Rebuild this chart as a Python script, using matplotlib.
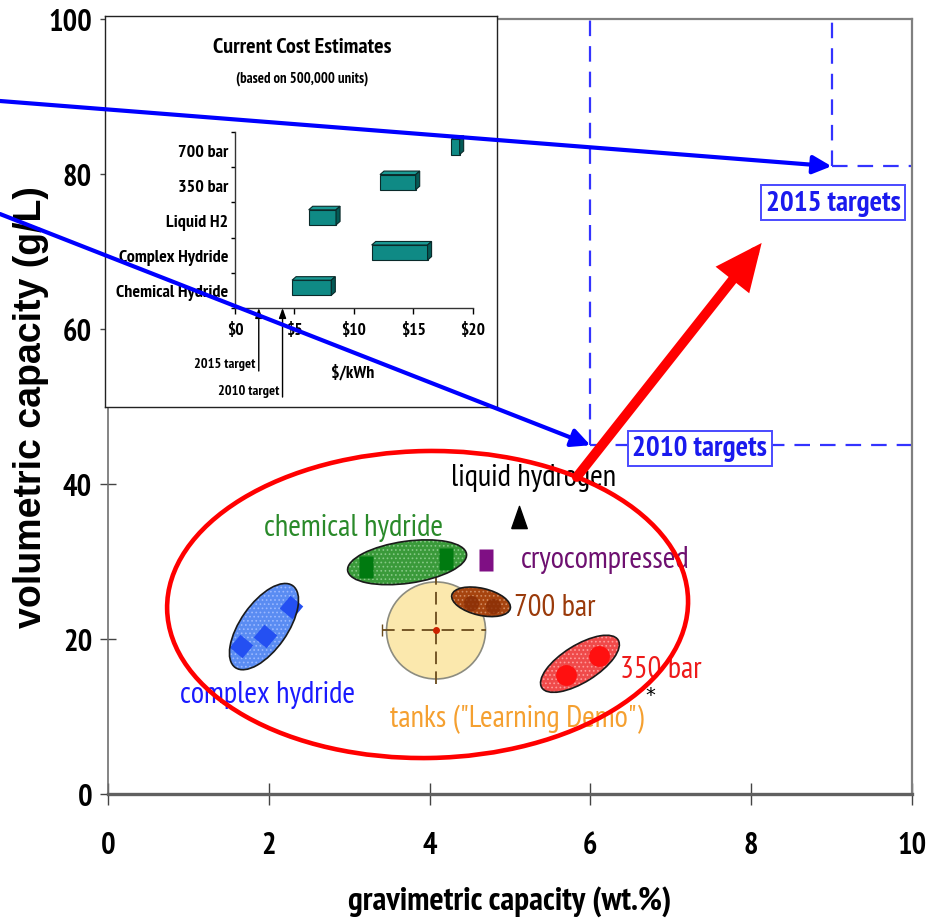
import numpy as np
import matplotlib
matplotlib.use("Agg")
import matplotlib.pyplot as plt
from matplotlib.patches import Ellipse, Polygon, ConnectionPatch
from matplotlib import transforms

# ---------------- data ----------------
x_ticks = [0, 2, 4, 6, 8, 10]
y_ticks = [0, 20, 40, 60, 80, 100]

target_labels = ["2010 targets", "2015 targets"]
target_grav = [6, 9]          # wt.%
target_vol = [45, 81]         # g/L
target_label_x = [7.36, 9.02]
target_label_y = [44.6, 76.3]

# technology clusters (centres, wt.% / g/L)
cluster_names = ["complex hydride", "chemical hydride", "700 bar", "350 bar"]
cluster_x = [1.94, 3.72, 4.64, 5.87]
cluster_y = [21.6, 29.9, 24.8, 16.8]

complex_pts_x = [1.66, 1.95, 2.28]
complex_pts_y = [19.1, 20.4, 24.1]
chemical_pts_x = [3.21, 4.20]
chemical_pts_y = [29.3, 30.3]
bar700_pts_x = [4.52, 4.79]
bar700_pts_y = [24.7, 24.3]
bar350_pts_x = [5.70, 6.11]
bar350_pts_y = [15.3, 17.8]

tanks_x = [4.08]
tanks_y = [21.1]
tanks_xrange = [3.41, 4.70]
tanks_yrange = [14.2, 28.0]

liquid_x = [5.11]
liquid_y = [35.7]
cryo_x = [4.70]
cryo_y = [30.2]

progress_start = (5.83, 40.9)
progress_end = (8.13, 71.1)
overall_center = (3.975, 24.45)

# inset: cost estimates
cost_categories = ["Chemical Hydride", "Complex Hydride", "Liquid H2", "350 bar", "700 bar"]
cost_low = [4.8, 11.5, 6.2, 12.2, 18.2]
cost_high = [8.1, 16.2, 8.5, 15.2, 18.9]
cost_xticks = [0, 5, 10, 15, 20]
cost_xticklabels = ["$0", "$5", "$10", "$15", "$20"]
cost_target_years = ["2015 target", "2010 target"]
cost_target_values = [2, 4]

# ---------------- figure ----------------
NARROW = ["PT Sans Narrow", "Fira Sans Condensed", "Archivo Narrow", "Liberation Sans", "DejaVu Sans"]
plt.rcParams["font.family"] = NARROW
plt.rcParams["hatch.linewidth"] = 0.7

W, H = 929, 920
fig = plt.figure(figsize=(W / 100, H / 100), dpi=100)
fig.patch.set_facecolor("white")

ax_l, ax_r, ax_t, ax_b = 108, 912, 20, 795
ax = fig.add_axes([ax_l / W, 1 - ax_b / H, (ax_r - ax_l) / W, (ax_b - ax_t) / H], zorder=0)
ax.set_xlim(0, 10)
ax.set_ylim(0, 100)
ax.set_xticks(x_ticks)
ax.set_yticks(y_ticks)
ax.set_xticklabels([str(v) for v in x_ticks], fontsize=22, fontweight="bold")
ax.set_yticklabels([str(v) for v in y_ticks], fontsize=22, fontweight="bold")
ax.tick_params(axis="x", direction="inout", length=16, width=1, color="#444444", pad=19)
ax.tick_params(axis="y", direction="inout", length=11, width=1, color="#444444", pad=6)
for s in ["top", "right"]:
    ax.spines[s].set_color("#808080")
    ax.spines[s].set_linewidth(1.6)
ax.spines["left"].set_color("#707070")
ax.spines["left"].set_linewidth(1.2)
ax.spines["bottom"].set_color("#606060")
ax.spines["bottom"].set_linewidth(2.4)

ax.set_xlabel("gravimetric capacity (wt.%)", fontsize=24, fontweight="bold")
ax.xaxis.set_label_coords(0.5, -0.117)
ax.set_ylabel("volumetric capacity (g/L)", fontsize=27, fontweight="bold",
              family=["Liberation Sans", "DejaVu Sans"])
ax.yaxis.set_label_coords(-0.074, 0.5)

PXX = (ax_r - ax_l) / 10.0
PXY = (ax_b - ax_t) / 100.0
px_tr = transforms.Affine2D().scale(1 / PXX, 1 / PXY) + ax.transData


def px_ellipse(cx, cy, w, h, ang, **kw):
    return Ellipse((cx * PXX, cy * PXY), w, h, angle=ang, transform=px_tr, **kw)


# target dashed lines
tcol = "#3333ff"
for gx, vy in zip(target_grav, target_vol):
    ax.plot([gx, gx], [vy, 100], color=tcol, lw=1.6, dashes=(7, 4.5), zorder=2)
    ax.plot([gx, 10], [vy, vy], color=tcol, lw=1.6, dashes=(7, 4.5), zorder=2)
for lab, lx, ly in zip(target_labels, target_label_x, target_label_y):
    ax.text(lx, ly, lab, ha="center", va="center", fontsize=21, fontweight="bold",
            color="#1a1aee", zorder=6,
            bbox=dict(boxstyle="square,pad=0.15", fc="white", ec="#4a4aff", lw=1.4))

# cluster ellipses
shapes = {
    "complex hydride": dict(w=100, h=47, ang=55, fc="#5a8cf2", dot="#9ab8ff"),
    "chemical hydride": dict(w=120, h=42, ang=8, fc="#3a9a3a", dot="#86c986"),
    "700 bar": dict(w=60, h=27, ang=-13, fc="#a6440f", dot="#d08a60"),
    "350 bar": dict(w=90, h=37, ang=32, fc="#ef4a4a", dot="#ff9a9a"),
}
for name, cx, cy in zip(cluster_names, cluster_x, cluster_y):
    s = shapes[name]
    ax.add_patch(px_ellipse(cx, cy, s["w"], s["h"], s["ang"], fc=s["fc"], ec=s["dot"],
                            lw=0, hatch="....", zorder=3))
    ax.add_patch(px_ellipse(cx, cy, s["w"], s["h"], s["ang"], fc="none", ec="#1a1a1a",
                            lw=1.2, zorder=4))

ax.plot(complex_pts_x, complex_pts_y, ls="none", marker=(4, 0, 5), ms=17,
        color="#2450f2", mec="none", zorder=3.5)
rect_marker = [(-0.62, -1), (0.62, -1), (0.62, 1), (-0.62, 1), (-0.62, -1)]
ax.plot(chemical_pts_x, chemical_pts_y, ls="none", marker=rect_marker, ms=16,
        color="#007a10", mec="none", zorder=3.5)
ax.plot(bar700_pts_x, bar700_pts_y, ls="none", marker="o", ms=11,
        color="#8a2e06", mec="none", alpha=0.8, zorder=3.5)
ax.plot(bar350_pts_x, bar350_pts_y, ls="none", marker="o", ms=15,
        color="#ff1010", mec="none", zorder=3.5)

# tanks "learning demo"
ax.add_patch(px_ellipse(tanks_x[0], tanks_y[0], 99, 97, 0, fc="#fbe8ad", ec="#8c8c80",
                        lw=1.2, zorder=2.5))
ax.plot(tanks_xrange, [tanks_y[0]] * 2, color="#6a4b1c", lw=1.3, dashes=(7, 4), zorder=2.7)
ax.plot([tanks_x[0]] * 2, tanks_yrange, color="#6a4b1c", lw=1.3, dashes=(7, 4), zorder=2.7)
ax.plot([tanks_xrange[0]], [tanks_y[0]], marker="|", ms=8, color="#6a4b1c", zorder=2.7)
ax.plot(tanks_x, tanks_y, marker="o", ms=4, color="#cc2200", ls="none", zorder=2.8)

# liquid hydrogen / cryocompressed markers
tri_marker = [(-0.7, -1), (0.7, -1), (0, 1), (-0.7, -1)]
ax.plot(liquid_x, liquid_y, ls="none", marker=tri_marker, ms=16, color="black", zorder=4)
ax.plot(cryo_x, cryo_y, ls="none", marker=rect_marker, ms=16, color="#7f0f84", mec="none", zorder=4)

# labels
lab_kw = dict(fontsize=22, zorder=5)
ax.text(5.29, 40.9, "liquid hydrogen", ha="center", va="center", color="black", **lab_kw)
ax.text(3.05, 34.4, "chemical hydride", ha="center", va="center", color="#2a8a2a", **lab_kw)
ax.text(1.98, 12.9, "complex hydride", ha="center", va="center", color="#1a1aff", **lab_kw)
ax.text(5.14, 30.3, "cryocompressed", ha="left", va="center", color="#6e1070", **lab_kw)
ax.text(5.05, 24.1, "700 bar", ha="left", va="center", color="#9a3a0a", **lab_kw)
ax.text(6.37, 16.1, "350 bar", ha="left", va="center", color="#ee1a1a", **lab_kw)
ax.text(5.09, 9.7, 'tanks ("Learning Demo")', ha="center", va="center", color="#f5a030", **lab_kw)
ax.text(6.75, 12.9, "*", ha="center", va="center", color="black", fontsize=14,
        family=["DejaVu Sans"], zorder=5)

# overall red ellipse
ax.add_patch(px_ellipse(overall_center[0], overall_center[1], 521, 307, 1, fc="none",
                        ec="#ff0000", lw=3.3, zorder=7))

# red progress arrow
ax.annotate("", xy=progress_end, xytext=progress_start,
            arrowprops=dict(arrowstyle="-|>,head_length=1.1,head_width=0.5",
                            mutation_scale=20, lw=7, color="#ff0000",
                            shrinkA=0, shrinkB=0, joinstyle="miter"),
            zorder=8)

# ---------------- inset ----------------
bx_l, bx_r, bx_t, bx_b = 105, 497, 17, 408
bg = fig.add_axes([bx_l / W, 1 - bx_b / H, (bx_r - bx_l) / W, (bx_b - bx_t) / H], zorder=2)
bg.set_xticks([])
bg.set_yticks([])
bg.set_facecolor("white")
for s in bg.spines.values():
    s.set_color("#222222")
    s.set_linewidth(1.0)
bg.text(0.503, 0.923, "Current Cost Estimates", transform=bg.transAxes, ha="center",
        va="center", fontsize=16, fontweight="bold")
bg.text(0.503, 0.841, "(based on 500,000 units)", transform=bg.transAxes, ha="center",
        va="center", fontsize=10.5, fontweight="bold")

in_l, in_r, in_t, in_b = 235, 472.7, 133, 309
inax = fig.add_axes([in_l / W, 1 - in_b / H, (in_r - in_l) / W, (in_b - in_t) / H], zorder=3)
inax.patch.set_alpha(0)
inax.set_xlim(0, 20)
inax.set_ylim(0, 5)
for s in ["top", "right"]:
    inax.spines[s].set_visible(False)
for s in ["left", "bottom"]:
    inax.spines[s].set_color("#333333")
    inax.spines[s].set_linewidth(1.0)
inax.set_xticks(cost_xticks)
inax.set_xticklabels(cost_xticklabels, fontsize=12.5, fontweight="bold")
inax.set_yticks(range(len(cost_categories) + 1))
inax.set_yticklabels([])
ypos = np.arange(len(cost_categories)) + 0.5
inax.set_yticks(ypos, minor=True)
inax.set_yticklabels(cost_categories, minor=True, fontsize=13, fontweight="bold")
inax.tick_params(axis="x", direction="out", length=4, width=1, pad=6)
inax.tick_params(axis="y", which="major", direction="out", length=3, width=1)
inax.tick_params(axis="y", which="minor", length=0, pad=5)

bar_b, bar_h = 0.36, 0.43
dx, dy = 0.34, 0.10
widths = np.array(cost_high) - np.array(cost_low)
inax.barh(np.arange(len(cost_categories)) + bar_b, widths, height=bar_h, left=cost_low,
          align="edge", color="#0f8a85", edgecolor="#0a2a2a", lw=0.8, zorder=3)
for i, (lo, hi) in enumerate(zip(cost_low, cost_high)):
    b = i + bar_b
    t = b + bar_h
    inax.add_patch(Polygon([(lo, t), (hi, t), (hi + dx, t + dy), (lo + dx, t + dy)],
                           closed=True, fc="#1a9a94", ec="#0a2a2a", lw=0.8, zorder=3))
    inax.add_patch(Polygon([(hi, b), (hi + dx, b + dy), (hi + dx, t + dy), (hi, t)],
                           closed=True, fc="#045a56", ec="#0a2a2a", lw=0.8, zorder=3))

arrow_bottoms = [-1.79, -2.53]
label_y = [-1.59, -2.33]
for yr, val, yb, ly in zip(cost_target_years, cost_target_values, arrow_bottoms, label_y):
    inax.annotate("", xy=(val, 0), xytext=(val, yb), annotation_clip=False,
                  arrowprops=dict(arrowstyle="-|>,head_length=0.5,head_width=0.18",
                                  mutation_scale=12, lw=1.0, color="black",
                                  shrinkA=0, shrinkB=0))
    inax.text(val - 0.3, ly, yr, ha="right", va="center", fontsize=10.3,
              fontweight="bold", clip_on=False)
inax.text(9.93, -1.82, "$/kWh", ha="center", va="center", fontsize=13,
          fontweight="bold", clip_on=False)

# ---------------- blue pointer arrows (over everything) ----------------
arrow_starts_px = [(0, 102), (0, 215)]
for (sx, sy), gx, vy in zip(arrow_starts_px, [target_grav[1], target_grav[0]],
                            [target_vol[1], target_vol[0]]):
    con = ConnectionPatch(xyA=(sx / W, 1 - sy / H), coordsA="figure fraction",
                          xyB=(gx, vy), coordsB="data", axesB=ax,
                          arrowstyle="-|>,head_length=0.45,head_width=0.22",
                          mutation_scale=25, lw=3.0, color="#0000ff",
                          shrinkA=0, shrinkB=0, zorder=10)
    fig.add_artist(con)

fig.savefig("out.png", dpi=100, facecolor="white")
